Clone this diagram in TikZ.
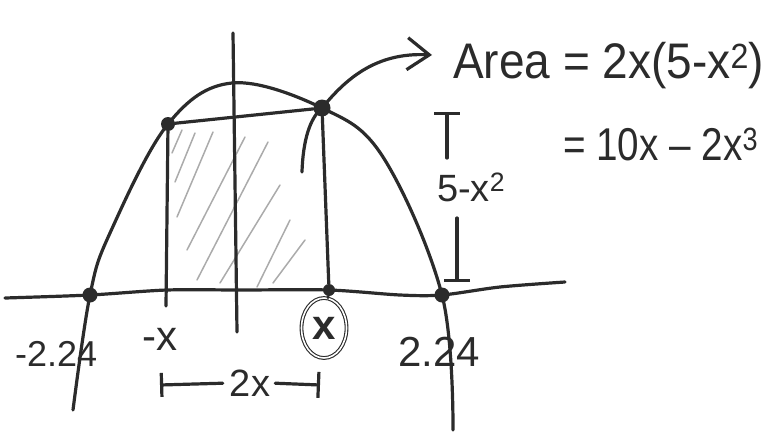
\documentclass[tikz,border=0pt]{standalone}
\usepackage{fontspec}
\setmainfont{Liberation Sans}
\usepackage{tikz}
\usetikzlibrary{arrows.meta, shapes.geometric}
\definecolor{ink}{HTML}{2B2B2B}
\definecolor{hatch}{HTML}{ABABAB}

\begin{document}
\begin{tikzpicture}[
  x=1pt, y=-1pt,
  pen/.style={draw=ink, line width=3.2pt, line cap=round, line join=round},
  hatchline/.style={draw=hatch, line width=1.5pt, line cap=round},
  dot/.style={circle, fill=ink, inner sep=0pt, minimum size=#1},
  dot/.default=15pt,
  lbl/.style={text=ink, inner sep=0pt, anchor=base west, font=\fontsize{#1}{#1}\selectfont},
]
  \useasboundingbox (0,0) rectangle (775,434);

  \node[dot] (rootL) at (90,295) {};
  \node[dot] (rootR) at (442,295) {};
  \node[dot=14pt] (ptL) at (168,124) {};
  \node[dot=17pt] (ptR) at (322,108) {};
  \node[dot=12pt] (footR) at (329,290) {};
  \coordinate (footL) at (166,306);
  \coordinate (yTop) at (233,33);
  \coordinate (yBot) at (237,332);

  \foreach \a/\b/\c/\d in {172/153/182/130, 175/182/195/133, 177/217/213/132, 187/250/245/137,
                           197/280/268/142, 220/283/280/185, 257/287/290/220, 273/283/305/240}
    \draw[hatchline] (\a,\b) -- (\c,\d);

  \draw[pen] plot[smooth, tension=0.6] coordinates {(73,410) (rootL.center) (110,233)
    (ptL.center) (232,83) (ptR.center) (383,157) (rootR.center) (453,430)};
  \draw[pen] plot[smooth, tension=0.5] coordinates {(5,298) (rootL.center) (167,290) (240,290)
    (footR.center) (400,295) (rootR.center) (500,287) (565,282)};
  \draw[pen] (yTop) -- (yBot);

  \draw[pen] (ptL) -- (ptR);
  \draw[pen] (ptL) -- (footL);
  \draw[pen] (ptR) -- (footR);

  \coordinate (tail) at (302,172);
  \coordinate (tip) at (432,55);
  \draw[pen, -{Straight Barb[length=22pt, width=32pt]}] (tail) .. controls (303,140) and (310,118) .. (ptR.center)
    .. controls (345,80) and (375,52) .. (tip);

  \node[ellipse, draw=ink, double=white, double distance=1.6pt, line width=1.1pt, minimum width=45pt,
    minimum height=60pt, inner sep=0pt, text=ink, font=\bfseries\fontsize{42}{42}\selectfont] (xval) at (324,328) {x};
  \draw[pen, line width=2.4pt] (footR) -- (xval);

  \node[lbl=36pt] (rootLlbl) at (15,366) {-2.24};
  \node[lbl=42pt] (negx) at (142,350) {-x};
  \node[lbl=42pt] (rootRlbl) at (398,366) {2.24};

  \node[lbl=38pt, anchor=center] (wid) at (250,383) {2x};
  \coordinate (wL) at (160,385);
  \coordinate (wR) at (320,385);
  \draw[pen, {Bar[width=24pt]}-] (wL) -- (wid.west) [shorten >=7pt];
  \draw[pen, -{Bar[width=26pt]}] (wid.east) -- (wR) [shorten <=5pt];

  \node[lbl=38pt] (hgt) at (437,201) {5-x\textsuperscript{2}};
  \coordinate (hTop) at (447,112);
  \coordinate (hTopEnd) at (447,158);
  \coordinate (hBot) at (457,282);
  \coordinate (hBotEnd) at (457,218);
  \draw[pen, {Bar[width=26pt]}-] (hTop) -- (hTopEnd);
  \draw[pen, -{Bar[width=26pt]}] (hBotEnd) -- (hBot);

  \node[lbl=50pt, transform shape, xscale=0.92] (area) at (453,78) {Area = 2x(5-x\textsuperscript{2})};
  \node[lbl=46pt, transform shape, xscale=0.84] (areaexp) at (563,160) {= 10x -- 2x\textsuperscript{3}};
\end{tikzpicture}
\end{document}
